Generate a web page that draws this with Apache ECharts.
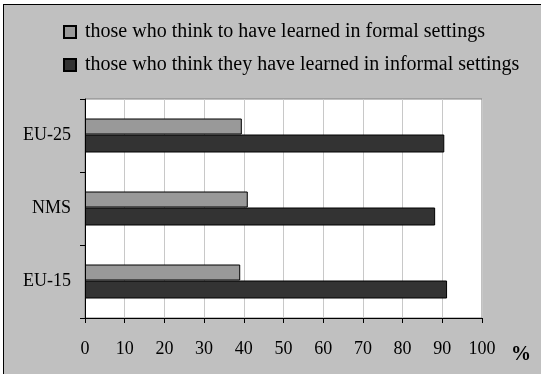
<!DOCTYPE html>
<html><head><meta charset="utf-8">
<script src="https://cdn.jsdelivr.net/npm/echarts@6/dist/echarts.min.js"></script>
<style>
html,body{margin:0;padding:0;background:#fff;width:541px;height:374px;overflow:hidden;}
#bg{position:absolute;left:3px;top:4px;width:600px;height:400px;background:#c0c0c0;border:1px solid #000;}
#chart{position:absolute;left:0;top:0;width:541px;height:374px;}
</style></head>
<body><div id="bg"></div><div id="chart"></div>
<script>
const categories = ['EU-25', 'NMS', 'EU-15'];
const formalName = 'those who think to have learned in formal settings';
const informalName = 'those who think they have learned in informal settings';
const formalValues = [39.5, 41, 39.1];
const informalValues = [90.5, 88.2, 91.2];
const unitLabel = '%';

const font = 'Liberation Serif';
const chart = echarts.init(document.getElementById('chart'));
chart.setOption({
  backgroundColor: 'transparent',
  animation: false,
  legend: {
    orient: 'vertical', left: 58, top: 17, icon: 'rect',
    itemWidth: 12, itemHeight: 12, itemGap: 13,
    textStyle: {fontFamily: font, fontSize: 20, color: '#000', padding: [0,0,0,4]},
    data: [formalName, informalName]
  },
  grid: {left: 85, right: 59, top: 99, bottom: 56, show: true, backgroundColor: '#fff', borderColor: '#808080', borderWidth: 1},
  xAxis: {
    type: 'value', min: 0, max: 100, interval: 10,
    axisLine: {show: true, lineStyle: {color: '#000', width: 1}},
    axisTick: {show: true, length: 5, lineStyle: {color: '#000'}},
    splitLine: {show: true, lineStyle: {color: '#c8c8c8'}},
    axisLabel: {fontFamily: font, fontSize: 18, color: '#000', margin: 22}
  },
  yAxis: {
    type: 'category', data: categories, inverse: true,
    axisLine: {show: true, lineStyle: {color: '#000', width: 1}},
    axisTick: {show: true, length: 5, lineStyle: {color: '#000'}},
    axisLabel: {fontFamily: font, fontSize: 18, color: '#000', margin: 14}
  },
  series: [
    {name: formalName, type: 'bar', data: formalValues, barWidth: 16, barGap: '0%',
     itemStyle: {color: '#999999', borderColor: '#000', borderWidth: 1}},
    {name: informalName, type: 'bar', data: informalValues, barWidth: 18, barGap: '0%',
     itemStyle: {color: '#333333', borderColor: '#000', borderWidth: 1}}
  ],
  graphic: [{type: 'text', left: 511, top: 345,
    style: {text: unitLabel, fontFamily: font, fontSize: 20, fontWeight: 'bold', fill: '#000'}}]
});
</script></body></html>
